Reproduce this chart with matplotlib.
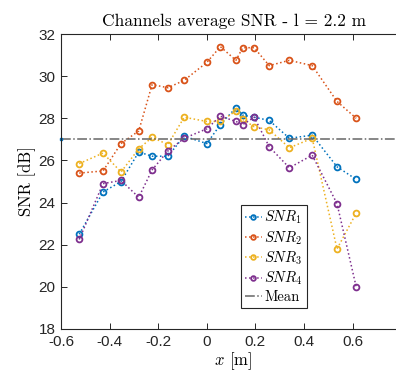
import matplotlib
matplotlib.use('Agg')
import matplotlib.pyplot as plt

plt.rcParams['mathtext.fontset'] = 'cm'
plt.rcParams['font.family'] = ['Liberation Sans', 'DejaVu Sans']

# positions along x [m]
x = [-0.525, -0.427, -0.353, -0.28, -0.225, -0.16, -0.093, 0.0, 0.056,
     0.12, 0.148, 0.195, 0.257, 0.34, 0.434, 0.536, 0.615]

snr1 = [22.5, 24.5, 25.0, 26.4, 26.2, 26.2, 27.15, 26.8, 27.7,
        28.5, 28.15, 28.05, 27.9, 27.05, 27.2, 25.7, 25.1]
snr2 = [25.4, 25.5, 26.8, 27.4, 29.6, 29.45, 29.8, 30.65, 31.4,
        30.75, 31.35, 31.35, 30.5, 30.75, 30.5, 28.8, 28.0]
snr3 = [25.85, 26.35, 25.45, 26.55, 27.1, 26.75, 28.05, 27.85, 27.85,
        28.35, 27.95, 27.6, 27.45, 26.6, 27.05, 21.8, 23.5]
snr4 = [22.25, 24.9, 25.05, 24.25, 25.55, 26.45, 27.05, 27.5, 28.1,
        27.85, 27.7, 28.05, 26.65, 25.65, 26.25, 23.95, 20.0]
mean_snr = 27.0

colors = ['#0072BD', '#D95319', '#EDB120', '#7E2F8E']
series = [snr1, snr2, snr3, snr4]
names = ['$SNR_1$', '$SNR_2$', '$SNR_3$', '$SNR_4$']

fig = plt.figure(figsize=(3.96, 3.75), dpi=100)
ax = fig.add_axes([61/396, 46/375, 345/396, 295/375])

for s, c, n in zip(series, colors, names):
    ax.plot(x, s, ':', color=c, marker='o', markersize=4.2, markerfacecolor='none',
            markeredgewidth=1.3, linewidth=1.1, label=n)

ax.axhline(mean_snr, color='0.4', linestyle='-.', linewidth=1.1, label='Mean')
ax.plot([-0.6], [mean_snr], 's', color='#0072BD', markersize=2, clip_on=False)

ax.set_xlim(-0.6, 0.82)
ax.set_ylim(18, 32)
ax.set_xticks([-0.6, -0.4, -0.2, 0, 0.2, 0.4, 0.6])
ax.set_xticklabels(['-0.6', '-0.4', '-0.2', '0', '0.2', '0.4', '0.6'])
ax.set_yticks(range(18, 33, 2))
ax.tick_params(direction='in', top=True, right=True, labelsize=11, length=4,
               width=0.7, colors='0.15', pad=4)
for sp in ax.spines.values():
    sp.set_linewidth(0.8)
    sp.set_color('0.15')

ax.set_title('Channels average SNR - l = 2.2 m', family='cmr10', fontsize=12.5, pad=6)
ax.set_xlabel('$x$ [m]', family='cmr10', fontsize=12, labelpad=1)
ax.set_ylabel('SNR [dB]', family='cmr10', fontsize=12, labelpad=2)

leg = ax.legend(loc='upper left', bbox_to_anchor=(241/396, 1 - 205/375),
                bbox_transform=fig.transFigure, fancybox=False, framealpha=1,
                edgecolor='0.15', fontsize=10.5, handlelength=1.2, handletextpad=0.15,
                borderpad=0.25, labelspacing=0.2, borderaxespad=0, markerscale=0.8)
leg.get_frame().set_linewidth(0.8)
for t in leg.get_texts():
    if t.get_text() == 'Mean':
        t.set_family('cmr10')

fig.savefig('out.png', dpi=100)
